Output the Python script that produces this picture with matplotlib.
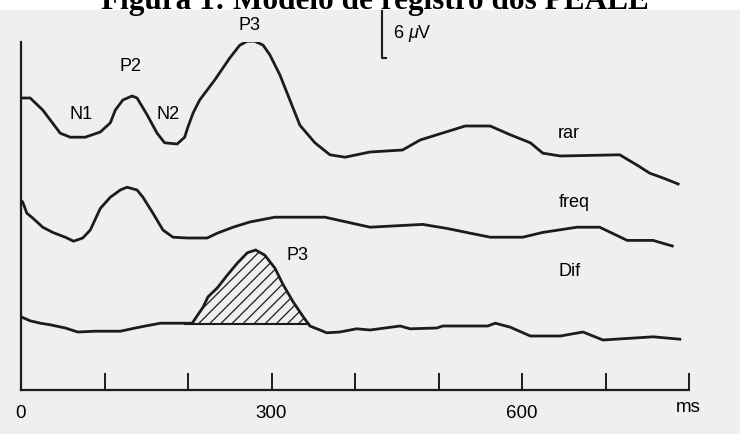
"""ERP waveform model figure (rar / freq / Dif)"""

import matplotlib
matplotlib.use('Agg')
import matplotlib.pyplot as plt
import numpy as np

plt.rcParams['font.family'] = ['Liberation Sans', 'DejaVu Sans']
plt.rcParams['mathtext.fontset'] = 'custom'
plt.rcParams['mathtext.rm'] = 'Liberation Sans'
plt.rcParams['mathtext.it'] = 'Liberation Sans:italic'
plt.rcParams['hatch.linewidth'] = 0.9

# time in ms, amplitude in uV (relative to each trace's own baseline)
rar_t = [0, 11, 26, 47, 59, 77, 95, 107, 113, 122, 133, 139, 151, 163, 172, 187,
         196, 200, 206, 214, 232, 250, 262, 271, 280, 290, 298, 310, 322, 334, 352,
         370, 388, 418, 457, 478, 498, 532, 562, 586, 610, 625, 646, 717, 738, 753,
         769, 787]
rar_v = [0, 0, -1.5, -4.4, -4.9, -4.9, -4.25, -3.1, -1.5, -0.25, 0.25, 0, -2.1,
         -4.4, -5.6, -5.75, -4.9, -3.6, -1.9, -0.25, 2.25, 5.0, 6.6, 7.1, 7.1, 6.6,
         5.4, 2.9, -0.25, -3.4, -5.6, -7.1, -7.4, -6.75, -6.5, -5.25, -4.6, -3.5,
         -3.5, -4.6, -5.6, -6.9, -7.25, -7.1, -8.4, -9.4, -10, -10.75]

freq_t = [0, 2, 7, 14, 26, 38, 53, 63, 74, 83, 95, 107, 119, 127, 139, 146, 158,
          170, 182, 199, 223, 235, 254, 274, 304, 364, 418, 481, 510, 538, 562,
          601, 625, 666, 693, 726, 757, 780]
freq_v = [3.1, 2.9, 1.5, 0.9, -0.25, -0.9, -1.5, -2, -1.6, -0.6, 2.1, 3.5, 4.4,
          4.75, 4.4, 3.5, 1.5, -0.6, -1.5, -1.6, -1.6, -1, -0.25, 0.4, 1, 1, -0.25,
          0.1, -0.4, -1, -1.5, -1.5, -0.9, -0.25, -0.25, -1.9, -1.9, -2.6]

dif_t = [0, 11, 23, 35, 53, 68, 89, 119, 137, 149, 167, 205, 218, 224, 235, 247,
         259, 271, 281, 292, 304, 314, 326, 338, 346, 358, 366, 382, 402, 418, 454,
         466, 498, 505, 559, 568, 586, 610, 646, 673, 697, 757, 789]
dif_v = [0.9, 0.4, 0.1, -0.1, -0.5, -1, -0.9, -0.9, -0.5, -0.25, 0.1, 0.1, 2.1,
         3.4, 4.5, 6.1, 7.6, 8.9, 9.25, 8.6, 7, 4.9, 2.75, 0.9, -0.25, -0.75, -1.1,
         -1, -0.6, -0.75, -0.25, -0.6, -0.5, -0.25, -0.25, 0.1, -0.4, -1.5, -1.5,
         -1, -2, -1.6, -1.9]

p3_window = (205, 346)
scale_uv = 6
tick_ms = list(range(0, 801, 100))
tick_labels = ['0', '', '', '300', '', '', '600', '', '']

# vertical layout of the stacked traces (uV above the time axis)
RAR_OFF, FREQ_OFF, DIF_OFF = 36.5, 20.6, 8.25
INK = '#1c1c1c'


def main():
    fig = plt.figure(figsize=(7.4, 4.34), dpi=100)
    fig.set_facecolor('#efefef')
    fig.patches.append(plt.Rectangle((0, 0.978), 1, 0.022, transform=fig.transFigure,
                                     facecolor='white', edgecolor='none', zorder=0))
    fig.text(0.506, 1 - 9 / 434, 'Figura 1: Modelo de registro dos PEALE',
             family='Liberation Serif', weight='bold', fontsize=22.5,
             ha='center', va='baseline', color='black')

    ax = fig.add_axes([21 / 740, 44 / 434, 668 / 740, 348 / 434])
    ax.set_facecolor('none')
    ax.set_xlim(0, 800)
    ax.set_ylim(0, 43.5)

    lw = 2.0
    ax.plot(rar_t, RAR_OFF + np.array(rar_v), color=INK, lw=lw, solid_joinstyle='round')
    ax.plot(freq_t, FREQ_OFF + np.array(freq_v), color=INK, lw=lw, solid_joinstyle='round')
    t = np.array(dif_t)
    d = DIF_OFF + np.array(dif_v)
    ax.plot(t, d, color=INK, lw=lw, solid_joinstyle='round')
    win = (t >= p3_window[0]) & (t <= p3_window[1])
    ax.fill_between(t, DIF_OFF, d, where=win & (d >= DIF_OFF), interpolate=True,
                    facecolor='none', edgecolor=INK, hatch='///', linewidth=0)
    ax.hlines(DIF_OFF, p3_window[0] - 10, p3_window[1], color=INK, lw=1.5)

    # scale bar
    x0 = 432
    ax.plot([x0, x0, x0 + 5], [41.5 + scale_uv, 41.5, 41.5], color=INK, lw=1.5,
            clip_on=False)
    ax.text(x0 + 13, 41.5 + scale_uv / 2, '6 $\\mu$V', fontsize=13, va='center')

    # axes styling
    for s in ('top', 'right'):
        ax.spines[s].set_visible(False)
    for s in ('left', 'bottom'):
        ax.spines[s].set_linewidth(1.6)
        ax.spines[s].set_color(INK)
    ax.set_yticks([])
    ax.set_xticks(tick_ms)
    ax.set_xticklabels(tick_labels)
    ax.tick_params(axis='x', direction='in', length=12, width=1.4, pad=11,
                   labelsize=13.5, color=INK)
    ax.text(799, -2.25, 'ms', fontsize=13.5, ha='center', va='center')

    # component labels
    lab = dict(fontsize=13, ha='center', va='center', color='black')
    ax.text(274, 45.6, 'P3', clip_on=False, **lab)
    ax.text(131, 40.4, 'P2', **lab)
    ax.text(72, 34.4, 'N1', **lab)
    ax.text(176, 34.4, 'N2', **lab)
    ax.text(656, 32.1, 'rar', **lab)
    ax.text(663, 23.4, 'freq', **lab)
    ax.text(657, 14.75, 'Dif', **lab)
    ax.text(331, 16.75, 'P3', **lab)

    fig.savefig('out.png', dpi=100, facecolor=fig.get_facecolor())


main()
